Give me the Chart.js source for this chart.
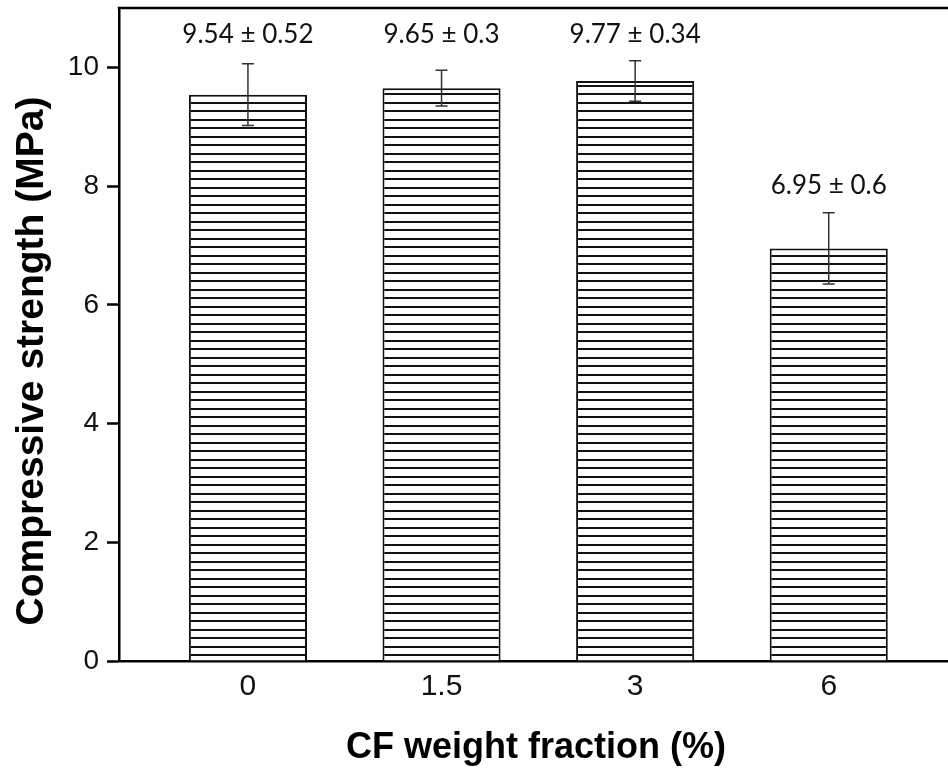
<!DOCTYPE html>
<html>
<head>
<meta charset="utf-8">
<script src="https://cdn.jsdelivr.net/npm/chart.js@4.4.1/dist/chart.umd.min.js"></script>
<style>
  html, body { margin: 0; padding: 0; background: #fff; overflow: hidden; }
</style>
</head>
<body>
<canvas id="c" width="948" height="773"></canvas>
<script>
var fractions = ['0', '1.5', '3', '6'];
var strength = [9.54, 9.65, 9.77, 6.95];
var strengthErr = [0.52, 0.3, 0.34, 0.6];
var yTicks = [0, 2, 4, 6, 8, 10];
var xTitle = 'CF weight fraction (%)';
var yTitle = 'Compressive strength (MPa)';

// horizontal line hatch used as bar fill
function hatch() {
  var p = document.createElement('canvas');
  p.width = 8; p.height = 17;
  var g = p.getContext('2d');
  g.fillStyle = '#fff';
  g.fillRect(0, 0, 8, 17);
  g.fillStyle = '#111';
  g.fillRect(0, 0, 8, 2);
  g.fillRect(0, 8, 8, 2);
  return g.createPattern(p, 'repeat');
}

var extras = {
  id: 'extras',
  afterDatasetsDraw: function(chart) {
    var ctx = chart.ctx, y = chart.scales.y;
    var bars = chart.getDatasetMeta(0).data;
    ctx.save();
    ctx.strokeStyle = '#333';
    ctx.lineWidth = 1.5;
    var tops = [];
    bars.forEach(function(bar, i) {
      var top = y.getPixelForValue(strength[i] + strengthErr[i]);
      var bot = y.getPixelForValue(strength[i] - strengthErr[i]);
      ctx.beginPath();
      ctx.moveTo(bar.x, top); ctx.lineTo(bar.x, bot);
      ctx.moveTo(bar.x - 6, top); ctx.lineTo(bar.x + 6, top);
      ctx.moveTo(bar.x - 6, bot); ctx.lineTo(bar.x + 6, bot);
      ctx.stroke();
      tops.push(top - 19);
    });
    // value labels, the ones that sit close together share one row
    var row = Math.min.apply(null, tops);
    ctx.fillStyle = '#111';
    ctx.font = '26px Lato';
    ctx.textAlign = 'center';
    ctx.textBaseline = 'alphabetic';
    bars.forEach(function(bar, i) {
      var ty = tops[i] - row < 12 ? row + 1 : tops[i];
      ctx.fillText(strength[i] + ' \u00b1 ' + strengthErr[i], bar.x, ty);
    });
    ctx.restore();
  },
  afterDraw: function(chart) {
    var ctx = chart.ctx, a = chart.chartArea;
    ctx.save();
    // top frame line
    ctx.strokeStyle = '#000';
    ctx.lineWidth = 2.5;
    ctx.beginPath();
    ctx.moveTo(a.left - 1.25, a.top);
    ctx.lineTo(a.right, a.top);
    ctx.stroke();
    // axis titles
    ctx.fillStyle = '#000';
    ctx.textAlign = 'center';
    ctx.textBaseline = 'alphabetic';
    ctx.font = 'bold 36px "Liberation Sans"';
    ctx.fillText(xTitle, 536, 758);
    ctx.translate(43, 361);
    ctx.rotate(-Math.PI / 2);
    ctx.font = 'bold 39px "Liberation Sans"';
    ctx.fillText(yTitle, 0, 0);
    ctx.restore();
  }
};

new Chart(document.getElementById('c'), {
  type: 'bar',
  data: {
    datasets: [{
      data: strength.map(function(v, i) { return {x: i, y: v}; }),
      backgroundColor: hatch(),
      borderColor: '#111',
      borderWidth: 2,
      barPercentage: 0.61,
      categoryPercentage: 1
    }]
  },
  options: {
    responsive: false,
    animation: false,
    events: [],
    layout: { padding: { top: 8, left: 0, right: 0, bottom: 0 } },
    plugins: { legend: { display: false }, tooltip: { enabled: false } },
    scales: {
      x: {
        type: 'linear',
        min: -0.666,
        max: 3.616,
        offset: false,
        grid: { display: false, drawTicks: false },
        border: { display: true, color: '#000', width: 2.5 },
        ticks: {
          color: '#111',
          padding: 8,
          font: { family: 'Liberation Sans', size: 30 },
          callback: function(v) { return fractions[v]; }
        },
        afterBuildTicks: function(s) {
          s.ticks = fractions.map(function(f, i) { return {value: i}; });
        },
        afterFit: function(s) {
          s.height = 112;
          s.paddingLeft = 0; s.paddingRight = 0;
        }
      },
      y: {
        min: 0,
        max: 11,
        grid: { drawOnChartArea: false, drawTicks: true, tickLength: 12, tickWidth: 2.5, tickColor: '#000' },
        border: { display: true, color: '#000', width: 2.5 },
        ticks: {
          color: '#111',
          padding: 8,
          font: { family: 'Liberation Sans', size: 28 }
        },
        afterBuildTicks: function(s) {
          s.ticks = yTicks.map(function(t) { return {value: t}; });
        },
        afterFit: function(s) {
          s.width = 119;
          s.paddingTop = 0; s.paddingBottom = 0;
        }
      }
    }
  },
  plugins: [extras]
});
</script>
</body>
</html>
